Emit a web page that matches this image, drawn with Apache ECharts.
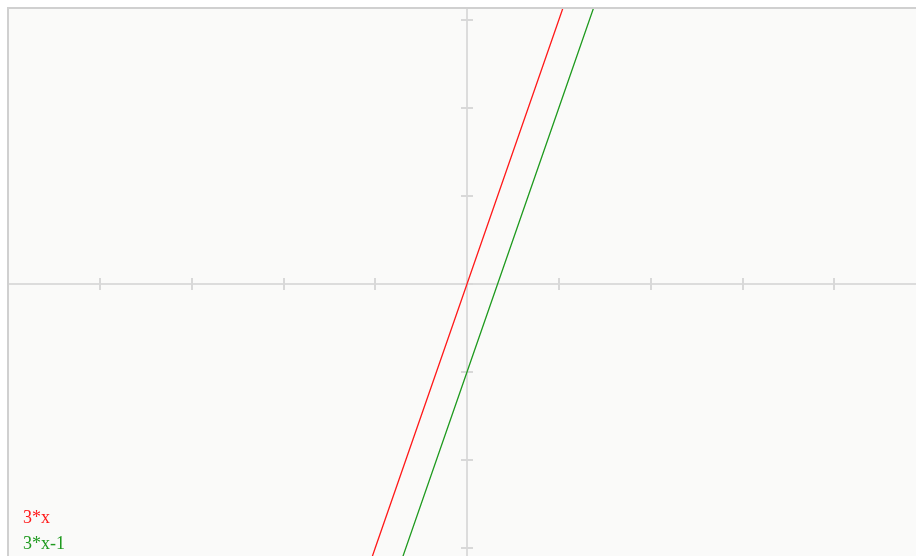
<!DOCTYPE html>
<html>
<head>
<meta charset="utf-8">
<script src="https://cdn.jsdelivr.net/npm/echarts@6/dist/echarts.min.js"></script>
<style>
html,body{margin:0;padding:0;background:#fff;}
#c{width:916px;height:556px;}
</style>
</head>
<body>
<div id="c"></div>
<script>
var xValues = [-5, -4, -3, -2, -1, 0, 1, 2, 3, 4, 5];
var series3x = [-15, -12, -9, -6, -3, 0, 3, 6, 9, 12, 15];
var series3xm1 = [-16, -13, -10, -7, -4, -1, 2, 5, 8, 11, 14];
var seriesNames = ['3*x', '3*x-1'];
var seriesColors = ['#ff1a1a', '#1f9a1f'];
var xTicks = [-5, -4, -3, -2, -1, 0, 1, 2, 3, 4, 5];
var yTicks = [-3, -2, -1, 0, 1, 2, 3];

function pairs(xs, ys) { return xs.map(function (x, i) { return [x, ys[i]]; }); }

var axisLineStyle = { color: '#dcdcdc', width: 2 };
function xAx(inside) {
  return {
    type: 'value', min: -5, max: 4.891, position: 'bottom',
    axisLine: { show: true, onZero: true, lineStyle: axisLineStyle },
    axisTick: { show: true, inside: inside, length: 6, customValues: xTicks, lineStyle: { color: '#d8d8d8', width: 2 } },
    axisLabel: { show: false }, splitLine: { show: false }
  };
}
function yAx(inside) {
  return {
    type: 'value', min: -3.09, max: 3.136, position: 'left',
    axisLine: { show: true, onZero: true, lineStyle: axisLineStyle },
    axisTick: { show: true, inside: inside, length: 6, customValues: yTicks, lineStyle: { color: '#d8d8d8', width: 2 } },
    axisLabel: { show: false }, splitLine: { show: false }
  };
}
function legendFor(i, top) {
  return {
    orient: 'vertical', left: 18, top: top, itemWidth: 0, itemHeight: 0,
    icon: 'rect', padding: 0,
    textStyle: { fontFamily: 'Liberation Serif', fontSize: 18, color: seriesColors[i] },
    data: [seriesNames[i]]
  };
}

var chart = echarts.init(document.getElementById('c'));
chart.setOption({
  animation: false,
  backgroundColor: '#ffffff',
  grid: { left: 8, top: 8, right: 0, bottom: 0, show: true, backgroundColor: '#fafaf9', borderWidth: 0 },
  graphic: [
    { type: 'polyline', shape: { points: [[8, 556], [8, 8], [916, 8]] }, style: { stroke: '#d0d0d0', lineWidth: 2, fill: null }, z: 5 }
  ],
  xAxis: [xAx(false), xAx(true)],
  yAxis: [yAx(false), yAx(true)],
  legend: [legendFor(0, 509), legendFor(1, 535)],
  series: [
    { name: seriesNames[0], type: 'line', data: pairs(xValues, series3x), showSymbol: false, clip: true, color: seriesColors[0], lineStyle: { width: 1.3 } },
    { name: seriesNames[1], type: 'line', data: pairs(xValues, series3xm1), showSymbol: false, clip: true, color: seriesColors[1], lineStyle: { width: 1.3 } }
  ]
});
</script>
</body>
</html>
